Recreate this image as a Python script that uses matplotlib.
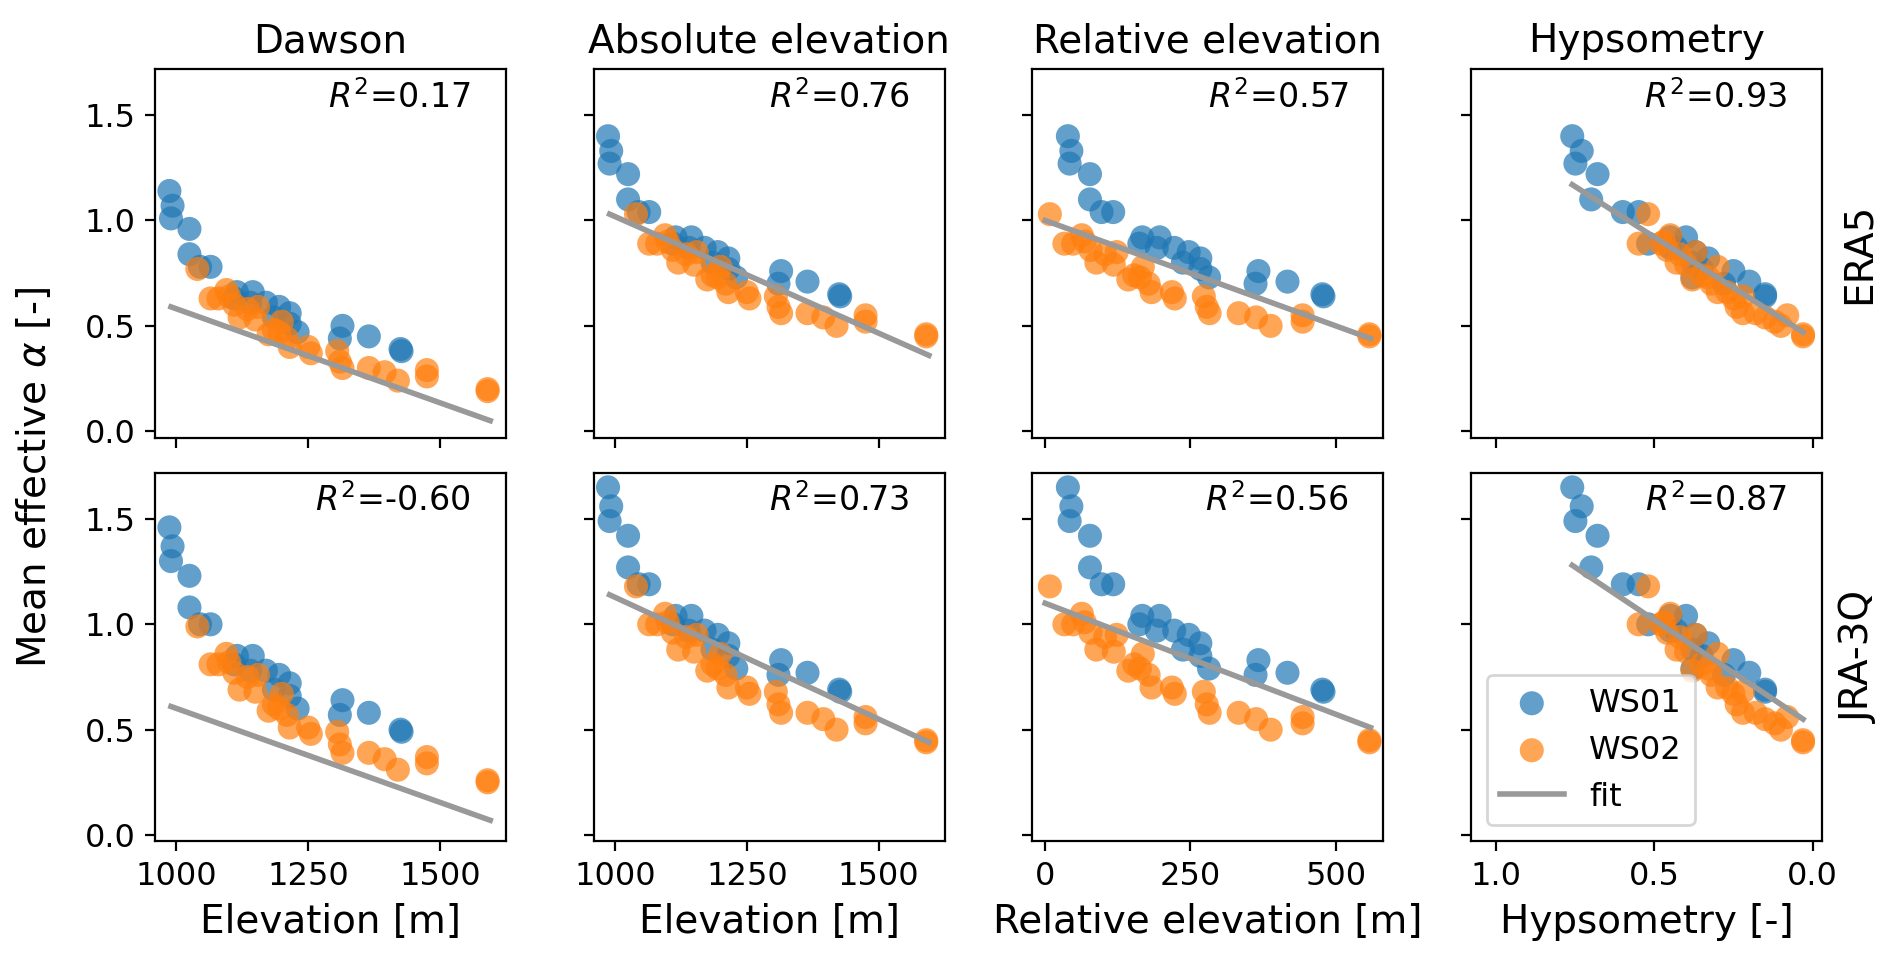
import matplotlib.pyplot as plt

# station elevations [m]
elev_ws01 = [987, 993, 990, 1025, 1025, 1045, 1065, 1115, 1110, 1140, 1145, 1170, 1185, 1195, 1215, 1215,
             1230, 1310, 1315, 1365, 1425, 1427]
elev_ws02 = [1040, 1065, 1080, 1095, 1100, 1110, 1120, 1135, 1150, 1155, 1175, 1185, 1195, 1200, 1210, 1215,
             1250, 1255, 1305, 1310, 1315, 1365, 1395, 1420, 1475, 1475, 1590, 1590]
# relative elevation [m]
rel_ws01 = [39, 45, 42, 77, 77, 97, 117, 167, 162, 192, 197, 222, 237, 247, 267, 267, 282, 362, 367, 417, 477, 479]
rel_ws02 = [8, 33, 48, 63, 68, 78, 88, 103, 118, 123, 143, 153, 163, 168, 178, 183, 218, 223, 273, 278, 283,
            333, 363, 388, 443, 443, 558, 558]
# hypsometry [-]
hyp_ws01 = [0.76, 0.73, 0.75, 0.68, 0.70, 0.60, 0.55, 0.45, 0.52, 0.45, 0.40, 0.43, 0.38, 0.37, 0.33, 0.35,
            0.38, 0.28, 0.25, 0.20, 0.15, 0.15]
hyp_ws02 = [0.52, 0.55, 0.48, 0.45, 0.47, 0.46, 0.43, 0.42, 0.40, 0.37, 0.38, 0.35, 0.33, 0.30, 0.32, 0.30,
            0.27, 0.25, 0.22, 0.24, 0.22, 0.18, 0.15, 0.10, 0.08, 0.12, 0.03, 0.03]

# mean effective alpha, Dawson method
daw_era_ws01 = [1.14, 1.07, 1.01, 0.96, 0.84, 0.78, 0.78, 0.66, 0.63, 0.61, 0.66, 0.61, 0.54, 0.59, 0.56, 0.51,
                0.47, 0.44, 0.50, 0.45, 0.39, 0.38]
daw_era_ws02 = [0.77, 0.63, 0.63, 0.67, 0.64, 0.60, 0.54, 0.58, 0.53, 0.59, 0.46, 0.48, 0.47, 0.52, 0.44, 0.40,
                0.40, 0.37, 0.38, 0.33, 0.30, 0.30, 0.28, 0.24, 0.29, 0.26, 0.19, 0.20]
daw_jra_ws01 = [1.46, 1.37, 1.30, 1.23, 1.08, 1.00, 1.00, 0.85, 0.81, 0.78, 0.85, 0.78, 0.69, 0.76, 0.72, 0.66,
                0.60, 0.57, 0.64, 0.58, 0.50, 0.49]
daw_jra_ws02 = [0.99, 0.81, 0.81, 0.86, 0.82, 0.77, 0.69, 0.75, 0.68, 0.76, 0.59, 0.62, 0.60, 0.67, 0.57, 0.51,
                0.51, 0.48, 0.49, 0.43, 0.39, 0.39, 0.36, 0.31, 0.37, 0.34, 0.25, 0.26]
# mean effective alpha, other methods
era_ws01 = [1.40, 1.33, 1.27, 1.22, 1.10, 1.04, 1.04, 0.92, 0.89, 0.87, 0.92, 0.87, 0.80, 0.85, 0.82, 0.77,
            0.73, 0.70, 0.76, 0.71, 0.65, 0.64]
era_ws02 = [1.03, 0.89, 0.89, 0.93, 0.90, 0.86, 0.80, 0.84, 0.79, 0.85, 0.72, 0.74, 0.73, 0.78, 0.70, 0.66,
            0.66, 0.63, 0.64, 0.59, 0.56, 0.56, 0.54, 0.50, 0.55, 0.52, 0.45, 0.46]
jra_ws01 = [1.65, 1.56, 1.49, 1.42, 1.27, 1.19, 1.19, 1.04, 1.00, 0.97, 1.04, 0.97, 0.88, 0.95, 0.91, 0.85,
            0.79, 0.76, 0.83, 0.77, 0.69, 0.68]
jra_ws02 = [1.18, 1.00, 1.00, 1.05, 1.01, 0.96, 0.88, 0.94, 0.87, 0.95, 0.78, 0.81, 0.79, 0.86, 0.76, 0.70,
            0.70, 0.67, 0.68, 0.62, 0.58, 0.58, 0.55, 0.50, 0.56, 0.53, 0.44, 0.45]

# fit line end points and R2 per panel
fits = {
    ("ERA5", 0): ([990, 1595], [0.59, 0.05], "0.17"),
    ("ERA5", 1): ([990, 1595], [1.03, 0.36], "0.76"),
    ("ERA5", 2): ([0, 560], [1.00, 0.44], "0.57"),
    ("ERA5", 3): ([0.76, 0.03], [1.17, 0.47], "0.93"),
    ("JRA-3Q", 0): ([990, 1595], [0.61, 0.07], "-0.60"),
    ("JRA-3Q", 1): ([990, 1595], [1.14, 0.44], "0.73"),
    ("JRA-3Q", 2): ([0, 560], [1.10, 0.51], "0.56"),
    ("JRA-3Q", 3): ([0.76, 0.03], [1.28, 0.55], "0.87"),
}

titles = ["Dawson", "Absolute elevation", "Relative elevation", "Hypsometry"]
xlabels = ["Elevation [m]", "Elevation [m]", "Relative elevation [m]", "Hypsometry [-]"]
xs = [(elev_ws01, elev_ws02), (elev_ws01, elev_ws02), (rel_ws01, rel_ws02), (hyp_ws01, hyp_ws02)]
ys = {
    "ERA5": [(daw_era_ws01, daw_era_ws02)] + [(era_ws01, era_ws02)] * 3,
    "JRA-3Q": [(daw_jra_ws01, daw_jra_ws02)] + [(jra_ws01, jra_ws02)] * 3,
}
xlims = [(960, 1625), (960, 1625), (-22, 582), (1.08, -0.03)]
xticks = [[1000, 1250, 1500], [1000, 1250, 1500], [0, 250, 500], [1.0, 0.5, 0.0]]

fig, axes = plt.subplots(2, 4, figsize=(9.46, 4.775), dpi=200, sharey=True)
fig.subplots_adjust(left=0.082, right=0.963, top=0.928, bottom=0.119, wspace=0.25, hspace=0.095)

for r, rea in enumerate(["ERA5", "JRA-3Q"]):
    for c in range(4):
        ax = axes[r, c]
        x1, x2 = xs[c]
        y1, y2 = ys[rea][c]
        ax.scatter(x1, y1, s=75, color="tab:blue", alpha=0.7, edgecolors="none", label="WS01")
        ax.scatter(x2, y2, s=75, color="tab:orange", alpha=0.7, edgecolors="none", label="WS02")
        fx, fy, r2 = fits[(rea, c)]
        ax.plot(fx, fy, color="#999999", lw=2, label="fit")
        ax.text(0.9, 0.97, "$R^2$=" + r2, transform=ax.transAxes, ha="right", va="top", fontsize=12)
        ax.set_xlim(xlims[c])
        ax.set_xticks(xticks[c])
        ax.set_ylim(-0.03, 1.72)
        ax.set_yticks([0.0, 0.5, 1.0, 1.5])
        ax.tick_params(labelsize=11.5)
        if r == 0:
            ax.set_title(titles[c], fontsize=14)
            ax.tick_params(labelbottom=False)
        else:
            ax.set_xlabel(xlabels[c], fontsize=14)
        if c == 3:
            ax.text(1.05, 0.5, rea, transform=ax.transAxes, rotation=90, ha="left", va="center", fontsize=14)

axes[1, 3].legend(loc="lower left", fontsize=11.5)
fig.text(0.008, 0.5, r"Mean effective $\alpha$ [-]", rotation=90, va="center", fontsize=14)

plt.savefig("out.png")
